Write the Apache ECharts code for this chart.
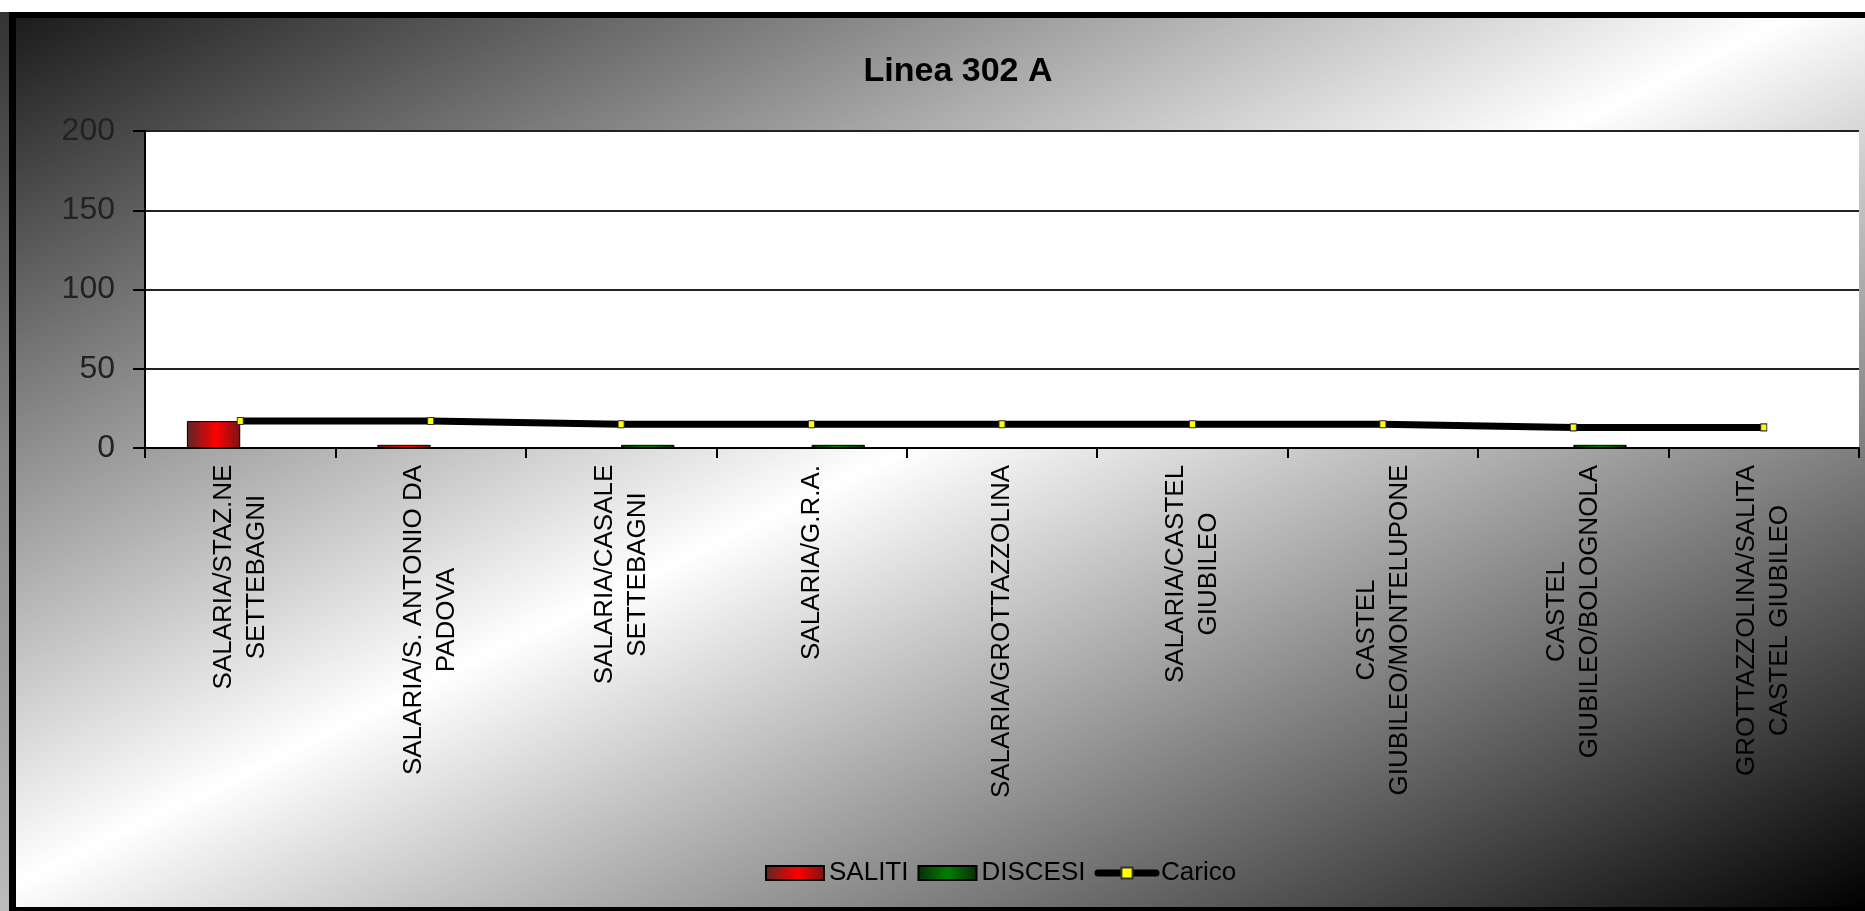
<!DOCTYPE html>
<html>
<head>
<meta charset="utf-8">
<script src="https://cdn.jsdelivr.net/npm/echarts@6/dist/echarts.min.js"></script>
<style>
html,body{margin:0;padding:0;background:#fff;}
#chart{width:1865px;height:911px;}
</style>
</head>
<body>
<div id="chart"></div>
<script>
// ---- data ----
const categories = [
  "SALARIA/STAZ.NE\nSETTEBAGNI",
  "SALARIA/S. ANTONIO DA\nPADOVA",
  "SALARIA/CASALE\nSETTEBAGNI",
  "SALARIA/G.R.A.",
  "SALARIA/GROTTAZZOLINA",
  "SALARIA/CASTEL\nGIUBILEO",
  "CASTEL\nGIUBILEO/MONTELUPONE",
  "CASTEL\nGIUBILEO/BOLOGNOLA",
  "GROTTAZZOLINA/SALITA\nCASTEL GIUBILEO"
];
const saliti  = [17, 2, 0, 0, 0, 0, 0, 0, 0];
const discesi = [0, 0, 2, 2, 0, 0, 0, 2, 0];
const carico  = [17, 17, 15, 15, 15, 15, 15, 13, 13];
const seriesNames = ["SALITI", "DISCESI", "Carico"];
const titleText = "Linea 302 A";

// ---- label helpers (center each line of rotated labels) ----
const FONT = '"Liberation Sans", Arial, sans-serif';
const LABEL_SIZE = 26;
const mctx = document.createElement('canvas').getContext('2d');
mctx.font = LABEL_SIZE + 'px ' + FONT;
const rich = {};
categories.forEach((c, i) => {
  const w = Math.max.apply(null, c.split('\n').map(l => mctx.measureText(l).width));
  rich['r' + i] = {width: Math.ceil(w) + 1, align: 'center', fontSize: LABEL_SIZE,
                   lineHeight: 33, fontFamily: FONT, color: '#000'};
});

const chart = echarts.init(document.getElementById('chart'), null, {renderer: 'canvas'});
const option = {
  animation: false,
  backgroundColor: {
    type: 'linear', global: true, x: 573, y: -280, x2: 1291, y2: 1190,
    colorStops: [
      {offset: 0, color: '#151515'},
      {offset: 0.49, color: '#ffffff'},
      {offset: 1, color: '#000000'}
    ]
  },
  graphic: [
    {type: 'rect', shape: {x: 0, y: 0, width: 1865, height: 12}, style: {fill: '#ffffff'}, z: 100, silent: true},
    {type: 'rect', shape: {x: 0, y: 12, width: 9, height: 899},
     style: {fill: {type: 'linear', x: 0, y: 0, x2: 0, y2: 1,
       colorStops: [{offset: 0, color: '#333'}, {offset: 0.5, color: '#888'}, {offset: 1, color: '#bbb'}]}},
     z: 100, silent: true},
    {type: 'rect', shape: {x: 9, y: 12, width: 1856, height: 6}, style: {fill: '#000'}, z: 100, silent: true},
    {type: 'rect', shape: {x: 9, y: 12, width: 7, height: 899}, style: {fill: '#000'}, z: 100, silent: true},
    {type: 'rect', shape: {x: 9, y: 907, width: 1856, height: 4}, style: {fill: '#000'}, z: 100, silent: true}
  ],
  title: {
    text: titleText, left: 953, top: 50, textAlign: 'center',
    textStyle: {fontFamily: FONT, fontSize: 34, fontWeight: 'bold', color: '#000'}
  },
  legend: {
    data: [
      {name: seriesNames[0], icon: 'rect'},
      {name: seriesNames[1], icon: 'rect'},
      {name: seriesNames[2], lineStyle: {width: 7, color: '#000', cap: 'round'}}
    ],
    left: 760, top: 855, itemWidth: 58, itemHeight: 14, itemGap: 9,
    textStyle: {fontFamily: FONT, fontSize: 26, color: '#000'}
  },
  grid: {left: 145, right: 6, top: 131, bottom: 463, show: true, backgroundColor: '#ffffff',
         borderWidth: 0, containLabel: false},
  xAxis: {
    type: 'category', data: categories,
    axisLine: {show: true, lineStyle: {color: '#000', width: 2}},
    axisTick: {show: true, length: 10, lineStyle: {color: '#000', width: 2}},
    axisLabel: {
      interval: 0, rotate: 90, margin: 16,
      formatter: (v, i) => v.split('\n').map(l => '{r' + i + '|' + l + '}').join('\n'),
      rich: rich
    },
    splitLine: {show: false}
  },
  yAxis: {
    type: 'value', min: 0, max: 200, interval: 50,
    axisLine: {show: true, lineStyle: {color: '#000', width: 2}},
    axisTick: {show: true, length: 12, lineStyle: {color: '#000', width: 2}},
    axisLabel: {margin: 30, fontFamily: FONT, fontSize: 32, color: '#222'},
    splitLine: {show: true, lineStyle: {color: '#222', width: 2}}
  },
  series: [
    {
      name: seriesNames[0], type: 'bar', data: saliti, barGap: '0%', barCategoryGap: '44%',
      itemStyle: {
        color: {type: 'linear', x: 0, y: 0, x2: 1, y2: 0,
          colorStops: [{offset: 0, color: '#5a2626'}, {offset: 0.55, color: '#ff0000'}, {offset: 1, color: '#7a1414'}]},
        borderColor: '#000', borderWidth: 1
      }
    },
    {
      name: seriesNames[1], type: 'bar', data: discesi,
      itemStyle: {
        color: {type: 'linear', x: 0, y: 0, x2: 1, y2: 0,
          colorStops: [{offset: 0, color: '#0a2a0a'}, {offset: 0.5, color: '#008000'}, {offset: 1, color: '#0a2a0a'}]},
        borderColor: '#000', borderWidth: 1
      }
    },
    {
      name: seriesNames[2], type: 'line', data: carico, z: 5,
      symbol: 'rect', symbolSize: [6, 7], showAllSymbol: true,
      lineStyle: {color: '#000', width: 7},
      itemStyle: {color: '#ffff00', borderColor: '#333', borderWidth: 1}
    }
  ]
};
chart.setOption(option);
</script>
</body>
</html>
